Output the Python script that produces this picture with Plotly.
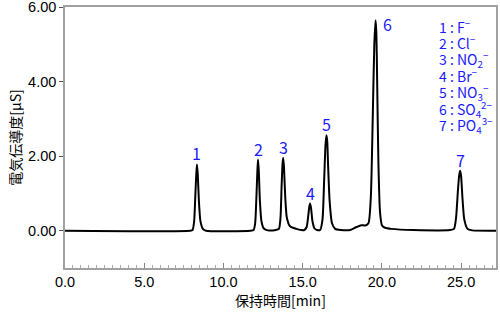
import plotly.graph_objects as go

# chromatogram trace (time [min], signal [uS])
time = [0.0, 7.9, 8.05, 8.15, 8.23, 8.29, 8.33, 8.38, 8.45, 8.55, 8.7, 8.9,
        11.7, 11.9, 12.0, 12.08, 12.14, 12.18, 12.23, 12.3, 12.4, 12.55, 12.8,
        13.3, 13.5, 13.6, 13.67, 13.73, 13.77, 13.82, 13.9, 14.0, 14.2, 14.6, 14.9,
        15.1, 15.25, 15.35, 15.42, 15.47, 15.53, 15.62, 15.75, 15.9,
        16.1, 16.25, 16.35, 16.44, 16.5, 16.55, 16.6, 16.7, 16.85, 17.05, 17.4,
        18.0, 18.4, 18.7, 18.95, 19.15, 19.3, 19.42, 19.52, 19.6, 19.65, 19.7, 19.78,
        19.88, 20.0, 20.2, 20.6, 22.0, 24.3,
        24.55, 24.68, 24.8, 24.88, 24.94, 25.0, 25.08, 25.2, 25.4, 25.7, 27.2]
signal = [0.0, 0.0, 0.02, 0.25, 1.0, 1.55, 1.78, 1.5, 0.8, 0.25, 0.05, 0.0,
          0.0, 0.02, 0.2, 0.9, 1.6, 1.91, 1.6, 0.8, 0.25, 0.06, 0.01,
          0.02, 0.05, 0.35, 1.2, 1.8, 1.96, 1.7, 0.9, 0.35, 0.12, 0.05, 0.02,
          0.02, 0.1, 0.4, 0.65, 0.73, 0.6, 0.25, 0.06, 0.02,
          0.02, 0.3, 1.3, 2.3, 2.56, 2.4, 1.8, 0.8, 0.2, 0.05, 0.02,
          0.02, 0.1, 0.15, 0.14, 0.2, 0.9, 3.0, 5.0, 5.65, 5.3, 4.0, 1.8,
          0.5, 0.15, 0.08, 0.05, 0.02, 0.02,
          0.05, 0.35, 1.1, 1.5, 1.61, 1.45, 0.9, 0.3, 0.05, 0.01, 0.0]

peak_no = ["1", "2", "3", "4", "5", "6", "7"]
peak_time = [8.33, 12.18, 13.77, 15.47, 16.5, 19.63, 24.94]
peak_height = [1.78, 1.91, 1.96, 0.73, 2.56, 5.65, 1.61]
ions = ["F<sup>−</sup>", "Cl<sup>−</sup>", "NO<sub>2</sub><sup>−</sup>", "Br<sup>−</sup>",
        "NO<sub>3</sub><sup>−</sup>", "SO<sub>4</sub><sup>2−</sup>", "PO<sub>4</sub><sup>3−</sup>"]

x_ticks = [0, 5, 10, 15, 20, 25]
x_tick_labels = ["0.0", "5.0", "10.0", "15.0", "20.0", "25.0"]
y_ticks = [0, 2, 4, 6]
y_tick_labels = ["0.00", "2.00", "4.00", "6.00"]

FONT = "Noto Sans CJK JP"
BLUE = "#1a1aff"

fig = go.Figure()
fig.add_trace(go.Scatter(x=time, y=signal, mode="lines",
                         line=dict(color="black", width=2, shape="spline", smoothing=0.6),
                         hoverinfo="skip", showlegend=False))

for n, t, h in zip(peak_no, peak_time, peak_height):
    if n == "6":
        fig.add_annotation(x=t + 0.3, y=h, text=n, showarrow=False, yshift=-4,
                           xanchor="left", yanchor="middle",
                           font=dict(color=BLUE, size=16, family=FONT))
    else:
        fig.add_annotation(x=t, y=h, text=n, showarrow=False, yshift=11,
                           xanchor="center",
                           font=dict(color=BLUE, size=16, family=FONT))

for i, (n, ion) in enumerate(zip(peak_no, ions)):
    fig.add_annotation(xref="paper", yref="paper", x=0.862, y=0.975 - i * 0.063,
                       xanchor="left", yanchor="top", showarrow=False,
                       text=f"{n} : {ion}", font=dict(color=BLUE, size=14, family=FONT))

fig.update_layout(
    width=500, height=312,
    margin=dict(l=65, r=4, t=7, b=44, autoexpand=False),
    paper_bgcolor="white", plot_bgcolor="white",
    font=dict(family=FONT, color="black", size=14),
    xaxis=dict(range=[0, 27.2], tickvals=x_ticks, ticktext=x_tick_labels,
               showgrid=False, zeroline=False, showline=True, linecolor="#a0a0a0",
               linewidth=1.5, mirror=True, ticks="inside", ticklen=5, tickcolor="#888",
               minor=dict(dtick=0.5, ticks="inside", ticklen=3, tickcolor="#aaa"),
               automargin=False,
               title=dict(text="保持時間[min]", font=dict(size=14), standoff=3),
               tickfont=dict(size=14.5, family="Liberation Sans")),
    yaxis=dict(range=[-1, 6.005], tickvals=y_ticks, ticktext=y_tick_labels,
               showgrid=False, zeroline=False, showline=True, linecolor="#a0a0a0",
               linewidth=1.5, mirror=True, ticks="outside", ticklen=4, tickcolor="#555",
               ticklabeloverflow="allow", automargin=False,
               title=dict(text="電気伝導度[μS]", font=dict(size=14), standoff=3),
               tickfont=dict(size=14.5, family="Liberation Sans")),
)

fig.write_html("out.html")
